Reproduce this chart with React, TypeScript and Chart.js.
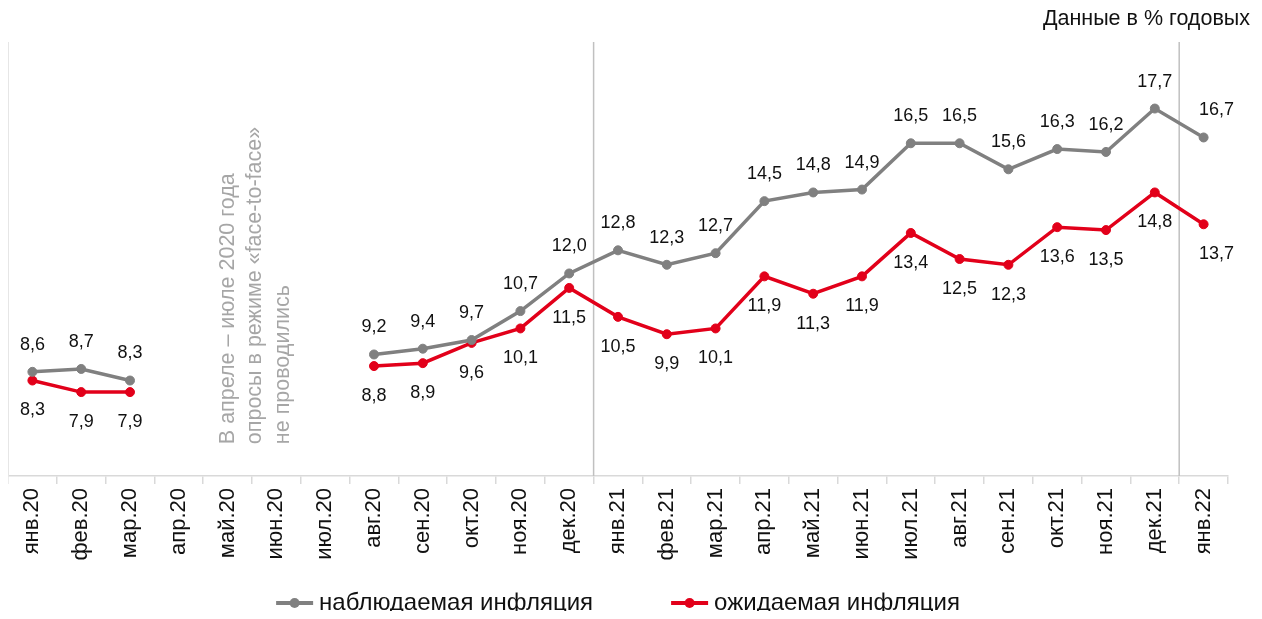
import React, { useEffect, useRef } from "react";
import { Chart, registerables } from "chart.js";

Chart.register(...registerables);

const categories = [
  "янв.20", "фев.20", "мар.20", "апр.20", "май.20", "июн.20", "июл.20", "авг.20",
  "сен.20", "окт.20", "ноя.20", "дек.20", "янв.21", "фев.21", "мар.21", "апр.21",
  "май.21", "июн.21", "июл.21", "авг.21", "сен.21", "окт.21", "ноя.21", "дек.21", "янв.22",
];
const observed = [
  8.6, 8.7, 8.3, null, null, null, null, 9.2, 9.4, 9.7, 10.7, 12.0, 12.8, 12.3, 12.7,
  14.5, 14.8, 14.9, 16.5, 16.5, 15.6, 16.3, 16.2, 17.7, 16.7,
];
const expected = [
  8.3, 7.9, 7.9, null, null, null, null, 8.8, 8.9, 9.6, 10.1, 11.5, 10.5, 9.9, 10.1,
  11.9, 11.3, 11.9, 13.4, 12.5, 12.3, 13.6, 13.5, 14.8, 13.7,
];
const seriesNames = ["наблюдаемая инфляция", "ожидаемая инфляция"];
const seriesColors = ["#808080", "#E2001A"];
const dividerAfter = ["дек.20", "дек.21"];
const noteLines = ["В апреле – июле 2020 года", "опросы в режиме «face-to-face»", "не проводились"];
const noteCategory = "май.20";
const noteValue = 6.1;
const unitsTitle = "Данные в % годовых";
const yMin = 5;
const yMax = 20;

const FONT = '"Liberation Sans", Arial, Helvetica, sans-serif';
const fmt = (v: number) => v.toFixed(1).replace(".", ",");

const overlay = {
  id: "overlay",
  beforeDatasetsDraw(chart: any) {
    const { ctx, chartArea: a, scales } = chart;
    const x = scales.x;
    const y = scales.y;
    ctx.save();
    // left border
    ctx.strokeStyle = "#e6e6e6";
    ctx.lineWidth = 1;
    ctx.beginPath();
    ctx.moveTo(a.left + 0.5, a.top);
    ctx.lineTo(a.left + 0.5, a.bottom);
    ctx.stroke();
    // dividers
    ctx.strokeStyle = "#c0c0c0";
    ctx.lineWidth = 1.5;
    dividerAfter.forEach((c) => {
      const i = categories.indexOf(c);
      const px = (x.getPixelForValue(i) + x.getPixelForValue(i + 1)) / 2;
      ctx.beginPath();
      ctx.moveTo(px, a.top);
      ctx.lineTo(px, a.bottom);
      ctx.stroke();
    });
    // note
    const ny = y.getPixelForValue(noteValue);
    const nx = x.getPixelForValue(categories.indexOf(noteCategory));
    ctx.fillStyle = "#a6a6a6";
    ctx.font = `21.5px ${FONT}`;
    ctx.textAlign = "left";
    ctx.textBaseline = "middle";
    noteLines.forEach((t, k) => {
      ctx.save();
      ctx.translate(nx + k * 27.5, ny);
      ctx.rotate(-Math.PI / 2);
      ctx.fillText(t, 0, 0);
      ctx.restore();
    });
    ctx.restore();
  },
  afterDatasetsDraw(chart: any) {
    const { ctx } = chart;
    ctx.save();
    ctx.font = `18px ${FONT}`;
    ctx.fillStyle = "#111";
    ctx.textAlign = "center";
    ctx.textBaseline = "middle";
    chart.data.datasets.forEach((ds: any, di: number) => {
      const meta = chart.getDatasetMeta(di);
      meta.data.forEach((pt: any, i: number) => {
        const v = ds.data[i];
        if (v === null || v === undefined) return;
        const dx = i === categories.length - 1 ? 13 : 0;
        const dy = di === 0 ? -27 : 30;
        ctx.fillText(fmt(v), pt.x + dx, pt.y + dy);
      });
    });
    ctx.restore();
  },
  afterDraw(chart: any) {
    const { ctx, chartArea: a, width, height } = chart;
    ctx.save();
    // title
    ctx.font = `21.5px ${FONT}`;
    ctx.fillStyle = "#111";
    ctx.textAlign = "right";
    ctx.textBaseline = "middle";
    ctx.fillText(unitsTitle, width - 4, 11);
    // legend
    ctx.font = `24px ${FONT}`;
    const symW = 37;
    const gapText = 6;
    const gapItems = 78;
    const widths = seriesNames.map((n) => symW + gapText + ctx.measureText(n).width);
    const total = widths.reduce((s, w) => s + w, 0) + gapItems;
    let cx = (a.left + a.right) / 2 - total / 2;
    const ly = height - 8;
    ctx.textAlign = "left";
    seriesNames.forEach((n, k) => {
      ctx.strokeStyle = seriesColors[k];
      ctx.fillStyle = seriesColors[k];
      ctx.lineWidth = 4;
      ctx.beginPath();
      ctx.moveTo(cx, ly);
      ctx.lineTo(cx + symW, ly);
      ctx.stroke();
      ctx.beginPath();
      ctx.arc(cx + symW / 2, ly, 5, 0, Math.PI * 2);
      ctx.fill();
      ctx.fillStyle = "#111";
      ctx.fillText(n, cx + symW + gapText, ly);
      cx += widths[k] + gapItems;
    });
    ctx.restore();
  },
};

export default function App() {
  const ref = useRef<HTMLCanvasElement | null>(null);
  useEffect(() => {
    if (!ref.current) return;
    const chart = new Chart(ref.current, {
      type: "line",
      data: {
        labels: categories,
        datasets: [observed, expected].map((d, k) => ({
          label: seriesNames[k],
          data: d,
          borderColor: seriesColors[k],
          backgroundColor: seriesColors[k],
          pointBackgroundColor: seriesColors[k],
          pointBorderColor: seriesColors[k],
          pointRadius: 4.5,
          pointBorderWidth: 1,
          borderWidth: 3.5,
          spanGaps: false,
          tension: 0,
        })),
      },
      options: {
        animation: false,
        responsive: true,
        maintainAspectRatio: false,
        layout: { autoPadding: false, padding: { top: 34, right: 26, left: 0, bottom: 40 } },
        plugins: { legend: { display: false }, title: { display: false }, tooltip: { enabled: false } },
        scales: {
          x: {
            type: "category",
            offset: true,
            grid: {
              display: true,
              offset: true,
              drawOnChartArea: false,
              drawTicks: true,
              tickLength: 8,
              color: "#d9d9d9",
              lineWidth: 1.5,
            },
            border: { display: true, color: "#d9d9d9", width: 1.5 },
            ticks: {
              autoSkip: false,
              minRotation: 90,
              maxRotation: 90,
              padding: 4,
              color: "#111",
              font: { family: FONT, size: 22 },
            },
            afterFit: (scale: any) => {
              scale.height = 95;
              scale.paddingLeft = 0;
              scale.paddingRight = 0;
            },
          },
          y: { display: false, min: yMin, max: yMax },
        },
      },
      plugins: [overlay],
    } as any);
    return () => chart.destroy();
  }, []);
  return (
    <div style={{ width: "100%", height: 603, position: "relative" }}>
      <canvas ref={ref} />
    </div>
  );
}
